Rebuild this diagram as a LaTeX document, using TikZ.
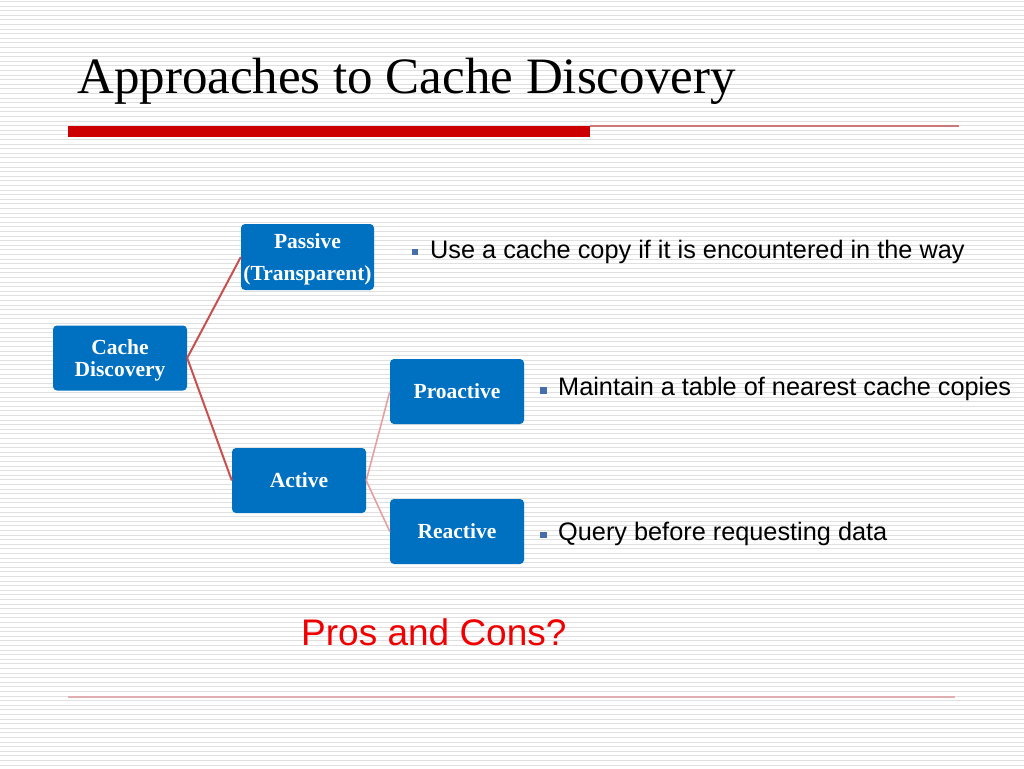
\documentclass[tikz,border=0pt]{standalone}
\usepackage{fontspec}
\setmainfont{Liberation Serif}
\setsansfont{Liberation Sans}
\definecolor{boxblue}{RGB}{0,112,192}
\definecolor{barred}{RGB}{204,0,0}
\definecolor{thinred}{RGB}{205,120,120}
\definecolor{footline}{RGB}{225,175,175}
\definecolor{linkred}{RGB}{200,80,78}
\definecolor{linkpink}{RGB}{228,160,160}
\definecolor{bulletblue}{RGB}{70,110,170}
\definecolor{stripe}{RGB}{224,224,224}
\definecolor{prosred}{RGB}{240,0,0}
\begin{document}
\begin{tikzpicture}[x=1pt,y=-1pt,
  catbox/.style={fill=boxblue, rounded corners=4pt, text=white, align=center,
    font=\fontsize{21.5}{23}\selectfont\bfseries, inner sep=0pt},
  bultext/.style={anchor=base west, inner sep=0pt, font=\sffamily\fontsize{25.3}{28}\selectfont},
  bulsq/.style={fill=bulletblue, minimum size=6.5pt, inner sep=0pt},
  linkA/.style={draw=linkred, line width=2pt},
  linkB/.style={draw=linkpink, line width=1.6pt}]
\useasboundingbox (0,0) rectangle (1024,768);
\fill[white] (0,0) rectangle (1024,768);
% background stripes
\foreach \k in {0,...,168} {
  \draw[stripe, line width=1pt] (0,{1.5+\k*4.6}) -- (1024,{1.5+\k*4.6});
}
% title
\node[anchor=base west, inner sep=0pt, font=\fontsize{51}{56}\selectfont] (title) at (77,93) {Approaches to Cache Discovery};
\fill[barred] (68,126) rectangle (590,137);
\draw[thinred, line width=1.5pt] (590,126) -- (959,126);
\draw[footline, line width=1.2pt] (68,697) -- (955,697);
% boxes
\node[catbox, minimum width=134pt, minimum height=65pt] (cd) at (120,358) {\raisebox{-2.5pt}[\height][\depth]{\parbox{130pt}{\centering Cache\\[-1pt]Discovery}}};
\node[catbox, minimum width=133pt, minimum height=66pt, font=\fontsize{21.5}{32}\selectfont\bfseries] (pas) at (307.5,257) {\raisebox{-2.5pt}[\height][\depth]{\parbox{133pt}{\centering Passive\\(Transparent)}}};
\node[catbox, minimum width=134pt, minimum height=65pt] (act) at (299,480.5) {Active};
\node[catbox, minimum width=134pt, minimum height=65pt] (pro) at (457,391.5) {Proactive};
\node[catbox, minimum width=134pt, minimum height=65pt] (rea) at (457,531.5) {Reactive};
% connectors
\draw[linkA] (cd.east) -- (pas.west);
\draw[linkA] (cd.east) -- (act.west);
\draw[linkB] (act.east) -- (pro.west);
\draw[linkB] (act.east) -- (rea.west);
% bullets
\node[bulsq] (b1) at (415,252) {};
\node[bultext] (t1) at (430,258) {Use a cache copy if it is encountered in the way};
\node[bulsq] (b2) at (543.5,390.5) {};
\node[bultext] (t2) at (558,395) {Maintain a table of nearest cache copies};
\node[bulsq] (b3) at (543.5,535) {};
\node[bultext] (t3) at (558,540) {Query before requesting data};
% pros and cons
\node[anchor=base west, inner sep=0pt, text=prosred, font=\sffamily\fontsize{37}{40}\selectfont] (pc) at (301,645) {Pros and Cons?};
\end{tikzpicture}
\end{document}
